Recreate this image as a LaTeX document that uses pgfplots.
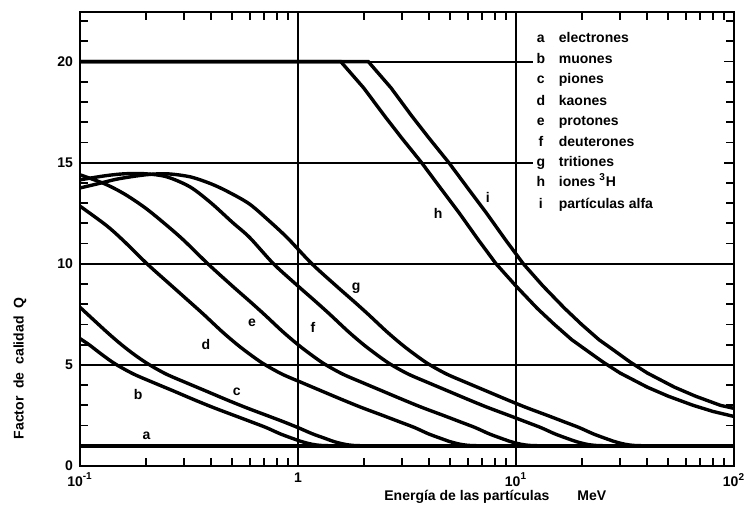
\documentclass[border=0pt]{standalone}
\usepackage{fontspec}
\setmainfont{Liberation Sans}
\usepackage{pgfplots}
\pgfplotsset{compat=1.18}
\newcommand{\sz}{\fontsize{7}{8}\selectfont\bfseries}
\begin{document}
\begin{tikzpicture}[
  curve/.style={black, line width=1.7pt, smooth, tension=0.5},
  mygrid/.style={black, line width=1pt},
  lt/.style={font=\sz},
  ll/.style={font=\sz, anchor=base},
  lx/.style={font=\sz, anchor=base west},
]
\begin{axis}[
  scale only axis, width=327pt, height=227pt,
  xmode=log, xmin=0.1, xmax=100, ymin=0, ymax=22.45,
  axis line style={line width=1.1pt},
  tick align=inside, tick style={line width=0.9pt, black},
  major tick length=5pt, minor tick length=4pt,
  xtick={0.1,1,10,100},
  xticklabels={10\textsuperscript{-1},1,10\textsuperscript{1},10\textsuperscript{2}},
  minor xtick={0.2,0.3,0.4,0.5,0.6,0.7,0.8,0.9,2,3,4,5,6,7,8,9,20,30,40,50,60,70,80,90},
  ytick={0,5,10,15,20},
  minor ytick={1,2,3,4,6,7,8,9,11,12,13,14,16,17,18,19,21,22},
  ticklabel style={font=\sz},
  yticklabel style={/pgf/number format/assume math mode=true},
  xlabel={Energía\ de\ las\ partículas\qquad MeV},
  ylabel={Factor\ \ de\ \ calidad\ \ Q},
  label style={font=\sz},
  xlabel style={at={(axis description cs:0.635,-0.068)}, anchor=center},
  ylabel style={at={(axis description cs:-0.092,0.215)}, anchor=center},
]
% grid lines
\draw[mygrid] (axis cs:0.1,5) -- (axis cs:100,5);
\draw[mygrid] (axis cs:0.1,10) -- (axis cs:100,10);
\draw[mygrid] (axis cs:0.1,15) -- (axis cs:12,15);
\draw[mygrid] (axis cs:0.1,20) -- (axis cs:12,20);
\draw[mygrid] (axis cs:1,0) -- (axis cs:1,22.45);
\draw[mygrid] (axis cs:10,0) -- (axis cs:10,22.45);

% a electrones
\addplot[black, line width=1.8pt] coordinates {(0.1,1) (100,1)};
% b muones
\addplot[curve] coordinates {(0.1,6.3) (0.11,6.0) (0.1265,5.5) (0.145,5.05) (0.176,4.55) (0.22,4.1) (0.27,3.7) (0.33,3.3) (0.407,2.9) (0.51,2.5) (0.605,2.2) (0.715,1.9) (0.825,1.6) (0.935,1.38) (1.045,1.2) (1.155,1.08) (1.265,1.02) (1.43,1.0)};
% c piones
\addplot[curve] coordinates {(0.1,7.85) (0.132,6.65) (0.155,6.0) (0.178,5.5) (0.205,5.05) (0.248,4.55) (0.31,4.1) (0.38,3.7) (0.465,3.3) (0.574,2.9) (0.72,2.5) (0.853,2.2) (1.0,1.9) (1.16,1.6) (1.32,1.38) (1.47,1.2) (1.63,1.08) (1.78,1.02) (2.0,1.0)};
% d kaones
\addplot[curve] coordinates {(0.1,12.85) (0.132,11.9) (0.158,11.15) (0.203,10) (0.264,8.9) (0.316,8.15) (0.369,7.5) (0.448,6.65) (0.527,6.0) (0.606,5.5) (0.696,5.05) (0.843,4.55) (1.054,4.1) (1.29,3.7) (1.58,3.3) (1.95,2.9) (2.45,2.5) (2.9,2.2) (3.43,1.9) (3.95,1.6) (4.48,1.38) (5.0,1.2) (5.53,1.08) (6.06,1.02) (6.85,1.0)};
% e protones
\addplot[curve] coordinates {(0.1,14.4) (0.13,13.95) (0.16,13.45) (0.2,12.75) (0.25,11.9) (0.3,11.15) (0.386,10) (0.5,8.9) (0.6,8.15) (0.7,7.5) (0.85,6.65) (1,6.0) (1.15,5.5) (1.32,5.05) (1.6,4.55) (2,4.1) (2.45,3.7) (3,3.3) (3.7,2.9) (4.65,2.5) (5.5,2.2) (6.5,1.9) (7.5,1.6) (8.5,1.38) (9.5,1.2) (10.5,1.08) (11.5,1.02) (13,1.0)};
% f deuterones
\addplot[curve] coordinates {(0.1,14.15) (0.13,14.35) (0.16,14.45) (0.2,14.45) (0.25,14.3) (0.32,13.8) (0.4,13.0) (0.5,12.05) (0.6,11.3) (0.772,10) (1,8.9) (1.2,8.15) (1.4,7.5) (1.7,6.65) (2,6.0) (2.3,5.5) (2.64,5.05) (3.2,4.55) (4,4.1) (4.9,3.7) (6,3.3) (7.4,2.9) (9.3,2.5) (11,2.2) (13,1.9) (15,1.6) (17,1.38) (19,1.2) (21,1.08) (23,1.02) (26,1.0)};
% g tritiones
\addplot[curve] coordinates {(0.1,13.75) (0.12,13.95) (0.15,14.2) (0.2,14.4) (0.25,14.45) (0.32,14.3) (0.4,13.95) (0.48,13.55) (0.6,12.95) (0.75,12.05) (0.9,11.25) (1.158,10) (1.5,8.9) (1.8,8.15) (2.1,7.5) (2.55,6.65) (3,6.0) (3.45,5.5) (3.96,5.05) (4.8,4.55) (6,4.1) (7.35,3.7) (9,3.3) (11.1,2.9) (13.95,2.5) (16.5,2.2) (19.5,1.9) (22.5,1.6) (25.5,1.38) (28.5,1.2) (31.5,1.08) (34.5,1.02) (39,1.0)};
% h iones 3He
\addplot[black, line width=1.7pt] coordinates {(0.1,20) (1.57,20) (2,18.7) (2.5,17.3) (3,16.2) (3.69,15) (4.5,13.75) (5.5,12.5) (6.7,11.2) (8.1,10) (10,8.9) (12.5,7.8) (15,7.0) (18,6.25) (21.2,5.7) (25,5.15) (30,4.6) (40,3.9) (50,3.45) (65,3.0) (80,2.7) (100,2.45)};
% i particulas alfa
\addplot[black, line width=1.7pt] coordinates {(0.1,20) (2.1,20) (2.67,18.7) (3.33,17.3) (4,16.2) (4.92,15) (6,13.75) (7.33,12.5) (8.93,11.2) (10.8,10) (13.3,8.9) (16.7,7.8) (20,7.0) (24,6.25) (28.3,5.7) (33.3,5.15) (40,4.6) (53.3,3.9) (66.7,3.45) (86.7,3.0) (100,2.85)};

% curve letters
\node[lt] at (axis cs:0.202,1.48) {a};
\node[lt] at (axis cs:0.185,3.55) {b};
\node[lt] at (axis cs:0.524,3.65) {c};
\node[lt] at (axis cs:0.378,6.0) {d};
\node[lt] at (axis cs:0.615,7.1) {e};
\node[lt] at (axis cs:1.17,6.85) {f};
\node[lt] at (axis cs:1.85,8.8) {g};
\node[lt] at (axis cs:4.4,12.5) {h};
\node[lt] at (axis cs:7.43,13.3) {i};

% legend
\node[ll] at (axis cs:13.0,20.95) {a};   \node[lx] at (axis cs:14.6,20.95) {electrones};
\node[ll] at (axis cs:13.0,19.9) {b};  \node[lx] at (axis cs:14.6,19.9) {muones};
\node[ll] at (axis cs:13.0,18.9) {c};  \node[lx] at (axis cs:14.6,18.9) {piones};
\node[ll] at (axis cs:13.0,17.85) {d};   \node[lx] at (axis cs:14.6,17.85) {kaones};
\node[ll] at (axis cs:13.0,16.85) {e};   \node[lx] at (axis cs:14.6,16.85) {protones};
\node[ll] at (axis cs:13.0,15.8) {f};  \node[lx] at (axis cs:14.6,15.8) {deuterones};
\node[ll] at (axis cs:13.0,14.8) {g};  \node[lx] at (axis cs:14.6,14.8) {tritiones};
\node[ll] at (axis cs:13.0,13.8) {h};  \node[lx] at (axis cs:14.6,13.8) {iones \textsuperscript{3}H};
\node[ll] at (axis cs:13.0,12.75) {i};   \node[lx] at (axis cs:14.6,12.75) {partículas alfa};
\end{axis}
\pgfresetboundingbox
\useasboundingbox ([xshift=-40pt,yshift=-28pt]current axis.south west) rectangle ([xshift=9pt,yshift=6pt]current axis.north east);
\end{tikzpicture}
\end{document}
